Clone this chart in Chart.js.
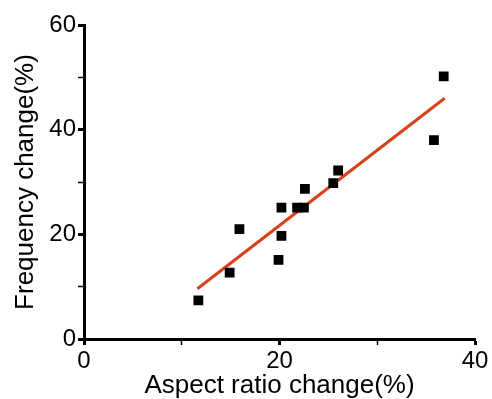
<!DOCTYPE html>
<html>
<head>
<meta charset="utf-8">
<script src="https://cdn.jsdelivr.net/npm/chart.js@4/dist/chart.umd.min.js"></script>
<style>
  html, body { margin: 0; padding: 0; background: #fff; }
  #wrap { width: 492px; height: 399px; }
</style>
</head>
<body>
<div id="wrap"><canvas id="scatterchart" width="492" height="399"></canvas></div>
<script>
// measured points (aspect ratio change %, frequency change %)
const aspectChange = [11.7, 14.9, 15.9, 19.9, 20.2, 20.2, 21.8, 22.5, 22.6, 25.5, 26.0, 35.8, 36.8];
const freqChange = [7.4, 12.7, 21.0, 15.1, 19.7, 25.1, 25.1, 25.1, 28.7, 29.8, 32.2, 38.0, 50.2];

// fitted line end points
const fitX = [11.6, 36.9];
const fitY = [9.6, 46.0];

const xTicks = [0, 20, 40];
const yTicks = [0, 20, 40, 60];

const tickFont = { family: "'Liberation Sans', Arial, sans-serif", size: 24 };
const titleFont = { family: "'Liberation Sans', Arial, sans-serif", size: 26 };

const scatterPoints = aspectChange.map((x, i) => ({ x: x, y: freqChange[i] }));
const fitPoints = fitX.map((x, i) => ({ x: x, y: fitY[i] }));

const chartdisplay = new Chart(document.getElementById("scatterchart"), {
  type: "scatter",
  data: {
    datasets: [
      {
        type: "line",
        data: fitPoints,
        borderColor: "#d8401c",
        borderWidth: 3,
        pointRadius: 0,
        fill: false,
        tension: 0,
        order: 2,
      },
      {
        data: scatterPoints,
        pointStyle: "rect",
        pointRadius: 5.5,
        backgroundColor: "#000",
        borderColor: "#000",
        borderWidth: 2,
        order: 1,
      },
    ],
  },
  options: {
    responsive: false,
    animation: false,
    layout: { padding: { top: 25, right: 17, left: 10, bottom: 0 } },
    plugins: { legend: { display: false }, tooltip: { enabled: false } },
    scales: {
      x: {
        type: "linear",
        min: 0,
        max: 40,
        ticks: {
          stepSize: 10,
          color: "#000",
          font: tickFont,
          padding: 2,
          maxRotation: 0,
          callback: (v) => (xTicks.includes(v) ? v : ""),
        },
        grid: {
          drawOnChartArea: false,
          color: "#000",
          tickLength: 6,
          tickWidth: (c) => (xTicks.includes(c.tick.value) ? 3 : 1.5),
        },
        border: { color: "#000", width: 3 },
        title: { display: true, text: "Aspect ratio change(%)", color: "#000", font: titleFont, padding: { top: 0, bottom: -2 } },
        afterFit: (s) => { s.height = 60; },
      },
      y: {
        type: "linear",
        min: 0,
        max: 60,
        ticks: {
          stepSize: 10,
          color: "#000",
          font: tickFont,
          padding: 2,
          callback: (v) => (yTicks.includes(v) ? v : ""),
        },
        grid: {
          drawOnChartArea: false,
          color: "#000",
          tickLength: 6,
          tickWidth: (c) => (yTicks.includes(c.tick.value) ? 3 : 1.5),
        },
        border: { color: "#000", width: 3 },
        title: { display: true, text: "Frequency change(%)", color: "#000", font: titleFont, padding: 0 },
        afterFit: (s) => { s.width = 74; },
      },
    },
  },
});
</script>
</body>
</html>
